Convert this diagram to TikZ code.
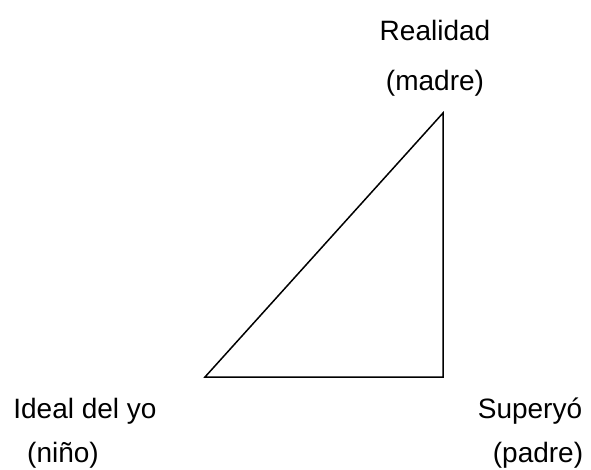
\documentclass[tikz,border=0pt]{standalone}
\usepackage{fontspec}
\setmainfont{Liberation Sans}
\usetikzlibrary{positioning}
\begin{document}
\begin{tikzpicture}[
  x=1pt,
  y=-1pt,
  mylabel/.style={
    anchor=base,
    inner sep=0pt,
    font=\fontsize{28}{34}\selectfont
    }
]
\useasboundingbox (0,0) rectangle (591,470);

\coordinate (realidad) at (443,113);
\coordinate (ideal) at (205,377);
\coordinate (superyo) at (443,377);

\draw[line width=1.5pt, line join=miter]
  (ideal) -- (realidad) -- (superyo) -- cycle;

\node[mylabel] (realidadA) at (435,41) {Realidad};
\node[mylabel] (realidadB) at (435,91) {(madre)};
\node[mylabel] (idealA) at (85,418) {Ideal del yo};
\node[mylabel] (idealB) at (63,462) {(niño)};
\node[mylabel] (superyoA) at (530,418) {Superyó};
\node[mylabel] (superyoB) at (538,462) {(padre)};
\end{tikzpicture}
\end{document}
